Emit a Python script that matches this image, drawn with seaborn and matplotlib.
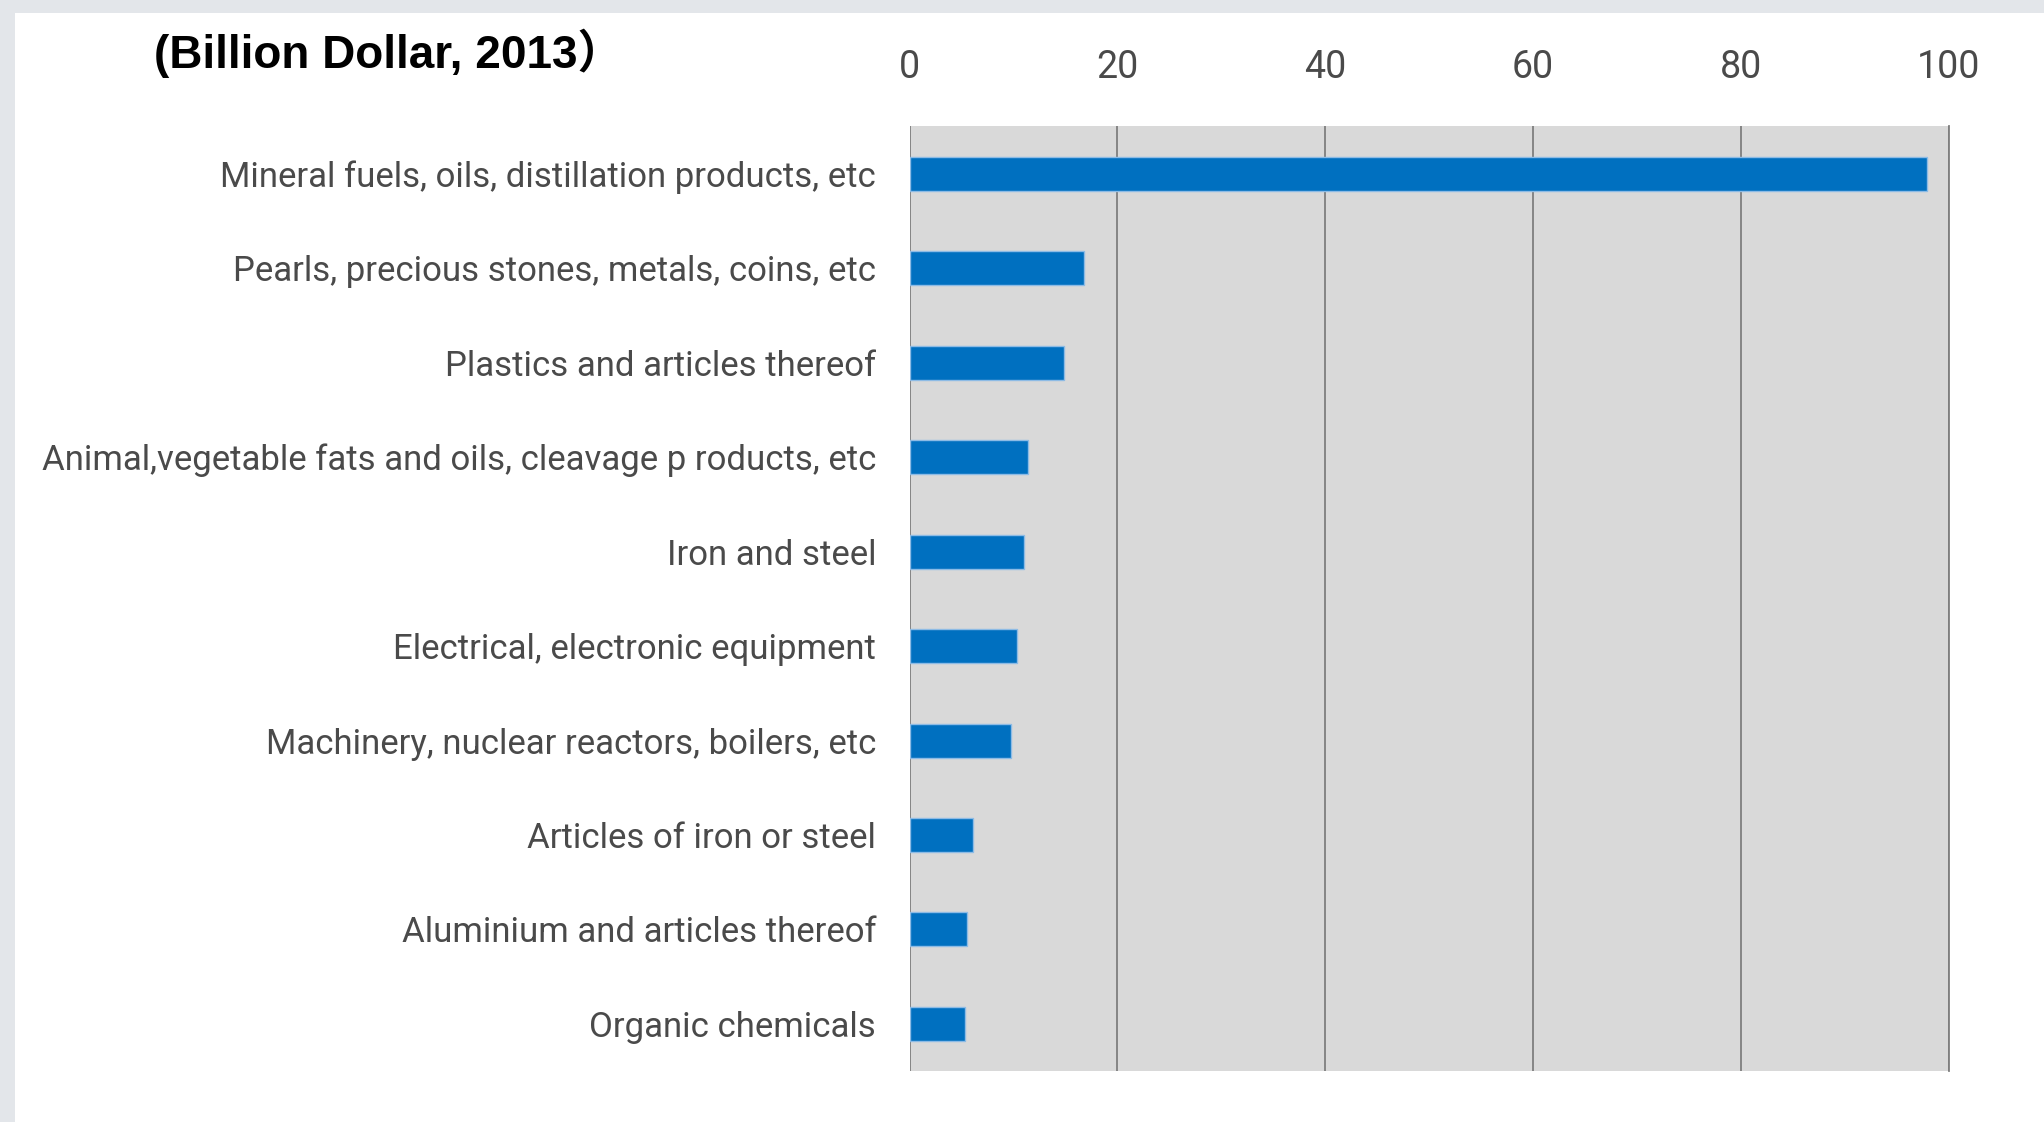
import matplotlib
matplotlib.use("Agg")
import matplotlib.pyplot as plt
import seaborn as sns
import pandas as pd
from matplotlib.patches import Rectangle

categories = [
    "Mineral fuels, oils, distillation products, etc",
    "Pearls, precious stones, metals, coins, etc",
    "Plastics and articles thereof",
    "Animal,vegetable fats and oils, cleavage p roducts, etc",
    "Iron and steel",
    "Electrical, electronic equipment",
    "Machinery, nuclear reactors, boilers, etc",
    "Articles of iron or steel",
    "Aluminium and articles thereof",
    "Organic chemicals",
]
values = [97.9, 16.8, 14.9, 11.4, 11.0, 10.3, 9.8, 6.1, 5.5, 5.3]
x_ticks = [0, 20, 40, 60, 80, 100]
title = "(Billion Dollar, 2013\uff09"

df = pd.DataFrame({"category": categories, "value": values})

sns.set_style("white")
plt.rcParams["font.family"] = ["Roboto", "DejaVu Sans"]

fig = plt.figure(figsize=(20.44, 11.22), dpi=100)
fig.patch.set_facecolor("#e3e6ea")
# white card over the grey page edge
fig.add_artist(Rectangle((15 / 2044, 0), 1, 1 - 13 / 1122,
                         transform=fig.transFigure, facecolor="white",
                         edgecolor="none", zorder=0))

ax = fig.add_axes([0.445, 0.0453, 0.5084, 0.842])
ax.set_facecolor("#d9d9d9")

sns.barplot(data=df, y="category", x="value", orient="h", color="#0070c0",
            saturation=1, width=0.36, edgecolor="#8dbbe5", linewidth=1.0,
            ax=ax, zorder=3)

ax.set_xlim(0, 100)
ax.set_ylim(9.5, -0.5)
ax.set_xticks(x_ticks)
ax.xaxis.tick_top()
ax.xaxis.grid(True, color="#7f7f7f", linewidth=1.3, zorder=1)
ax.set_axisbelow(True)
ax.set_xlabel("")
ax.set_ylabel("")
ax.tick_params(axis="x", length=0, pad=29, labelsize=27, labelcolor="#4a4a4a")
ax.tick_params(axis="y", length=0, pad=24, labelsize=25, labelcolor="#4a4a4a")

for side in ["top", "bottom", "left"]:
    ax.spines[side].set_visible(False)
ax.spines["right"].set_color("#7f7f7f")
ax.spines["right"].set_linewidth(1.3)

fig.text(0.0753, 0.9525, title, fontsize=33, fontweight="bold", color="black",
         va="center", ha="left",
         family=["Liberation Sans", "Noto Sans CJK SC", "DejaVu Sans"])

fig.savefig("out.png", dpi=100, facecolor=fig.get_facecolor())
